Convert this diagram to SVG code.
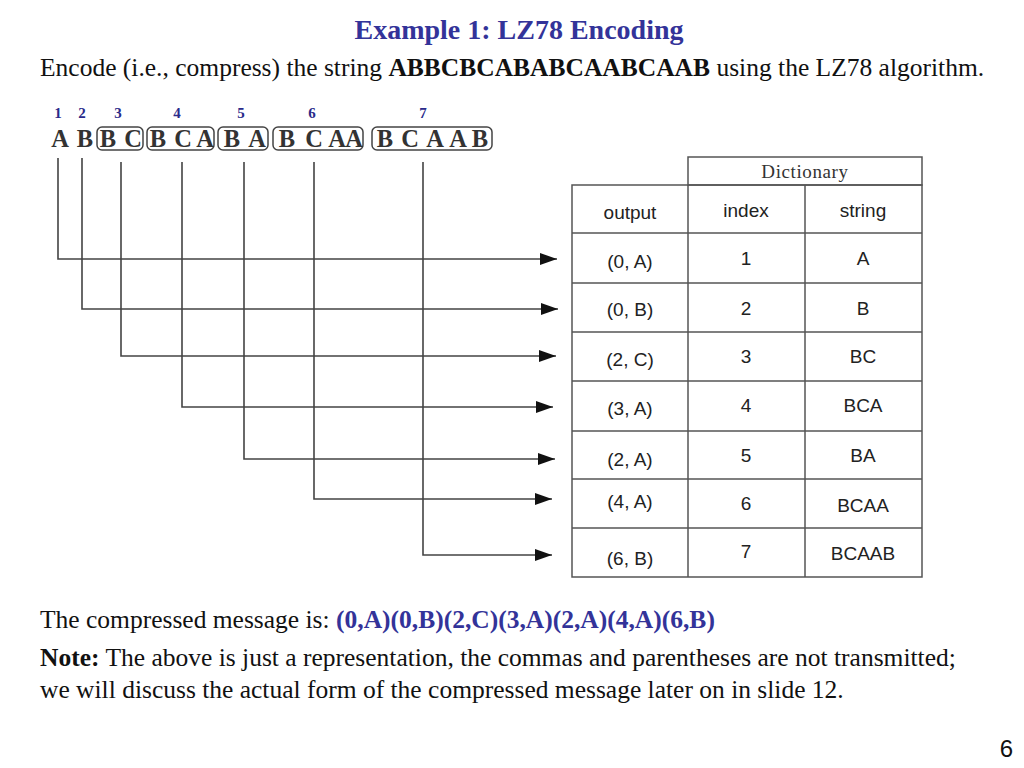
<svg xmlns="http://www.w3.org/2000/svg" width="1024" height="768" viewBox="0 0 1024 768">
<defs>
<style>
.serif{font-family:"Liberation Serif","Times New Roman",serif}
.title{font-size:28px;font-weight:bold;fill:#333399}
.body{font-size:25.5px;fill:#111}
.b{font-weight:bold}
.blue{fill:#333399;font-weight:bold}
.let{font-family:"Liberation Serif",serif;font-size:24.5px;font-weight:bold;fill:#333;text-anchor:middle}
.num{font-family:"Liberation Serif",serif;font-size:15px;font-weight:bold;fill:#2a2a8a;text-anchor:middle}
.box{fill:none;stroke:#444;stroke-width:1.5}
.cell{font-family:"Liberation Sans",Arial,sans-serif;font-size:19px;fill:#222;text-anchor:middle}
.grid{stroke:#555;stroke-width:1.5;fill:none}
.conn{fill:none;stroke:#444;stroke-width:1.6}
</style>
<marker id="ah" viewBox="0 0 17 12" refX="17" refY="6" markerWidth="17" markerHeight="12" markerUnits="userSpaceOnUse" orient="auto">
<path d="M0,0 L17,6 L0,12 z" fill="#111"/>
</marker>
</defs>
<rect width="1024" height="768" fill="#fff"/>

<g id="title"><text class="serif title" x="519" y="39" text-anchor="middle">Example 1: LZ78 Encoding</text></g>
<g id="intro"><text class="serif body" x="40" y="76">Encode (i.e., compress) the string <tspan class="b">ABBCBCABABCAABCAAB</tspan> using the LZ78 algorithm.</text></g>

<g id="input-string">
<text class="num" x="58" y="118">1</text>
<text class="num" x="82" y="118">2</text>
<text class="num" x="118" y="118">3</text>
<text class="num" x="177" y="118">4</text>
<text class="num" x="241" y="118">5</text>
<text class="num" x="312" y="118">6</text>
<text class="num" x="423" y="118">7</text>
<text class="let" x="60" y="147">A</text>
<text class="let" x="85" y="147">B</text>
<rect class="box" x="97" y="127" width="46" height="23" rx="5"/>
<text class="let" x="108" y="147">B</text>
<text class="let" x="133" y="147">C</text>
<rect class="box" x="147" y="127" width="67" height="23" rx="5"/>
<text class="let" x="158" y="147">B</text>
<text class="let" x="183" y="147">C</text>
<text class="let" x="205" y="147">A</text>
<rect class="box" x="218" y="127" width="50" height="23" rx="5"/>
<text class="let" x="232" y="147">B</text>
<text class="let" x="257" y="147">A</text>
<rect class="box" x="273" y="127" width="90" height="23" rx="5"/>
<text class="let" x="287" y="147">B</text>
<text class="let" x="314" y="147">C</text>
<text class="let" x="337" y="147">A</text>
<text class="let" x="354" y="147">A</text>
<rect class="box" x="372" y="127" width="120" height="23" rx="5"/>
<text class="let" x="385" y="147">B</text>
<text class="let" x="410" y="147">C</text>
<text class="let" x="435" y="147">A</text>
<text class="let" x="458" y="147">A</text>
<text class="let" x="480" y="147">B</text>
</g>

<g id="connectors">
<path class="conn" d="M58,158 V259 H557" marker-end="url(#ah)"/>
<path class="conn" d="M82,158 V309 H558" marker-end="url(#ah)"/>
<path class="conn" d="M121,162 V356 H556" marker-end="url(#ah)"/>
<path class="conn" d="M182,162 V407 H553" marker-end="url(#ah)"/>
<path class="conn" d="M244,162 V459 H555" marker-end="url(#ah)"/>
<path class="conn" d="M314,162 V499 H552" marker-end="url(#ah)"/>
<path class="conn" d="M423,162 V555 H552" marker-end="url(#ah)"/>
</g>

<g id="table">
<rect class="grid" x="688" y="157" width="234" height="28"/>
<rect class="grid" x="572" y="185" width="350" height="392"/>
<line class="grid" x1="688" y1="185" x2="688" y2="577"/>
<line class="grid" x1="805" y1="185" x2="805" y2="577"/>
<line class="grid" x1="572" y1="233" x2="922" y2="233"/>
<line class="grid" x1="572" y1="283" x2="922" y2="283"/>
<line class="grid" x1="572" y1="332" x2="922" y2="332"/>
<line class="grid" x1="572" y1="381" x2="922" y2="381"/>
<line class="grid" x1="572" y1="431" x2="922" y2="431"/>
<line class="grid" x1="572" y1="479" x2="922" y2="479"/>
<line class="grid" x1="572" y1="528" x2="922" y2="528"/>
<text x="805" y="178" text-anchor="middle" style="font-family:'Liberation Serif',serif;font-size:19px;fill:#333;letter-spacing:0.6px">Dictionary</text>
<text class="cell" x="630" y="219">output</text>
<text class="cell" x="746" y="217">index</text>
<text class="cell" x="863" y="217">string</text>
</g>

<g id="row1"><text class="cell" x="630" y="268">(0, A)</text><text class="cell" x="746" y="265">1</text><text class="cell" x="863" y="265">A</text></g>
<g id="row2"><text class="cell" x="630" y="316">(0, B)</text><text class="cell" x="746" y="315">2</text><text class="cell" x="863" y="315">B</text></g>
<g id="row3"><text class="cell" x="630" y="366">(2, C)</text><text class="cell" x="746" y="363">3</text><text class="cell" x="863" y="363">BC</text></g>
<g id="row4"><text class="cell" x="630" y="415">(3, A)</text><text class="cell" x="746" y="412">4</text><text class="cell" x="863" y="412">BCA</text></g>
<g id="row5"><text class="cell" x="630" y="466">(2, A)</text><text class="cell" x="746" y="462">5</text><text class="cell" x="863" y="462">BA</text></g>
<g id="row6"><text class="cell" x="630" y="508">(4, A)</text><text class="cell" x="746" y="510">6</text><text class="cell" x="863" y="512">BCAA</text></g>
<g id="row7"><text class="cell" x="630" y="565">(6, B)</text><text class="cell" x="746" y="558">7</text><text class="cell" x="863" y="560">BCAAB</text></g>

<g id="message"><text class="serif body" x="40" y="628">The compressed message is: <tspan class="blue">(0,A)(0,B)(2,C)(3,A)(2,A)(4,A)(6,B)</tspan></text></g>
<g id="note">
<text class="serif body" x="40" y="666"><tspan class="b">Note:</tspan> The above is just a representation, the commas and parentheses are not transmitted;</text>
<text class="serif body" x="40" y="698">we will discuss the actual form of the compressed message later on in slide 12.</text>
</g>
<g id="page"><text x="1013" y="757" text-anchor="end" style="font-family:'Liberation Sans',Arial,sans-serif;font-size:24px;fill:#111">6</text></g>
</svg>
